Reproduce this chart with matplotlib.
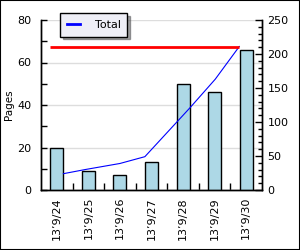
import numpy as np
import matplotlib.pyplot as plt
from matplotlib.patches import Rectangle

# data
days = ["13’9/24", "13’9/25", "13’9/26", "13’9/27", "13’9/28", "13’9/29", "13’9/30"]
pages = [20, 9, 7, 13, 50, 46, 66]
# running total, sampled at irregular times (category units)
total_pos = [0.21, 0.89, 2.0, 2.79, 4.22, 5.02, 5.78]
total_vals = [24, 30, 39, 49, 121, 163, 211]
grand_total = 211

fig = plt.figure(figsize=(3.0, 2.5), dpi=100)
fig.patch.set_facecolor("white")
fig.patches.append(Rectangle((0, 0), 1, 1, transform=fig.transFigure,
                             fill=False, edgecolor="black", linewidth=1.5))

ax = fig.add_axes([41 / 300, 60 / 250, 221 / 300, 170 / 250])
ax2 = ax.twinx()

x = np.arange(len(days))
bw = 0.41
ax.bar(x, pages, width=bw, color="#add8e6", edgecolor="black", linewidth=1, zorder=3)

ax.set_xlim(-0.5, 6.5)
ax.set_ylim(0, 80)
ax.set_yticks([0, 20, 40, 60, 80])
ax.set_yticks([10, 30, 50, 70], minor=True)
ax.yaxis.grid(True, color="#dddddd", linewidth=1, zorder=0)
ax.set_axisbelow(True)
ax.tick_params(axis="y", which="both", direction="in", length=4, width=1,
               labelsize=8, pad=7)
ax.set_ylabel("Pages", fontsize=7.5, labelpad=2)

ax.set_xticks(x)
ax.set_xticklabels(days, rotation=90, fontsize=8)
ax.tick_params(axis="x", which="major", length=0, pad=5)
ax.set_xticks(x[:-1] + 0.5, minor=True)
ax.tick_params(axis="x", which="minor", direction="in", length=5, width=1)

ax2.set_ylim(0, 250)
ax2.set_yticks([0, 50, 100, 150, 200, 250])
ax2.set_yticks(np.arange(0, 251, 10), minor=True)
ax2.tick_params(axis="y", which="major", direction="in", length=5, width=1,
                labelsize=8, pad=4)
ax2.tick_params(axis="y", which="minor", direction="in", length=3, width=1)

ax2.plot(total_pos, total_vals, color="blue", linewidth=0.8, label="Total")
ax2.hlines(grand_total, -bw / 2, total_pos[-1], color="red", linewidth=2)

for a in (ax, ax2):
    a.spines["top"].set_visible(False)
    for s in ("left", "right", "bottom"):
        a.spines[s].set_linewidth(1)

leg = ax2.legend(loc="upper left", bbox_to_anchor=(58 / 300, 1 - 11 / 250),
                 bbox_transform=fig.transFigure, fontsize=8, frameon=True,
                 fancybox=False, shadow=True, handlelength=1.2,
                 borderpad=0.6, handletextpad=1.3, borderaxespad=0.2)
leg.get_frame().set_facecolor("#eeeef6")
leg.get_frame().set_edgecolor("black")
leg.get_frame().set_alpha(1)
for h in leg.get_lines():
    h.set_linewidth(2)

fig.savefig("out.png", dpi=100)
